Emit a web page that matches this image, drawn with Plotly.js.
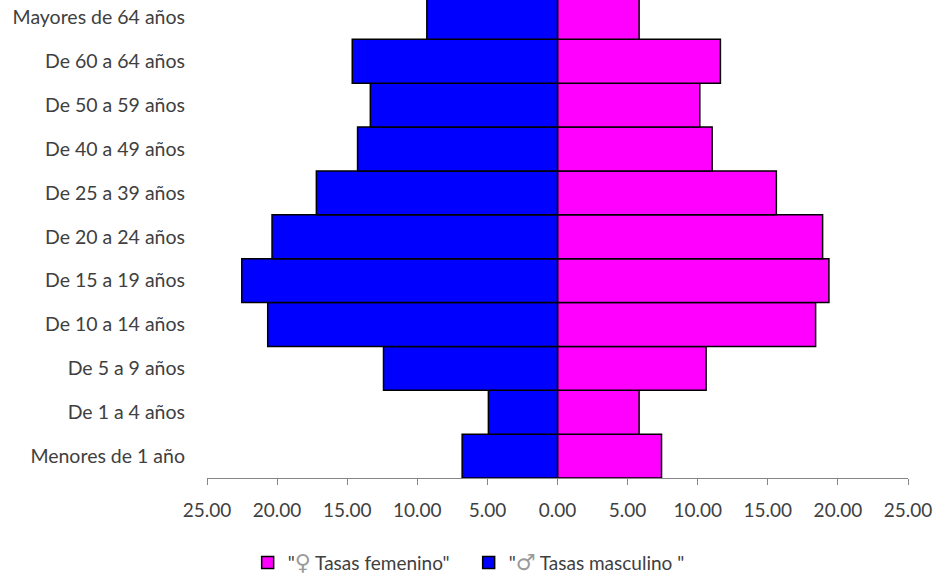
<!DOCTYPE html>
<html>
<head>
<meta charset="utf-8">
<script src="https://cdn.plot.ly/plotly-3.0.1.min.js"></script>
<style>html,body{margin:0;padding:0;background:#fff;}#chart{width:934px;height:576px;}</style>
</head>
<body>
<div id="chart"></div>
<script>
const categories = ["Menores de 1 año","De 1 a 4 años","De 5 a 9 años","De 10 a 14 años","De 15 a 19 años","De 20 a 24 años","De 25 a 39 años","De 40 a 49 años","De 50 a 59 años","De 60 a 64 años","Mayores de 64 años"];
const femaleRates = [7.42, 5.82, 10.60, 18.41, 19.36, 18.91, 15.61, 11.03, 10.15, 11.62, 5.82];
const maleRates = [6.80, 4.93, 12.41, 20.67, 22.52, 20.36, 17.20, 14.26, 13.35, 14.64, 9.32];
const tickValues = [-25, -20, -15, -10, -5, 0, 5, 10, 15, 20, 25];
const tickLabels = ["25.00","20.00","15.00","10.00","5.00","0.00","5.00","10.00","15.00","20.00","25.00"];
const symStyle = 'font-family:DejaVu Sans;font-size:22px;color:#9a9a9a';
const femaleName = '"<span style="' + symStyle + '">\u2640</span> Tasas femenino"';
const maleName = '"<span style="' + symStyle + '">\u2642</span> Tasas masculino "';

const fontFam = "Lato, 'Open Sans', sans-serif";
const textColor = "#404040";

const traces = [
  {
    type: "bar", orientation: "h", name: femaleName,
    y: categories, x: femaleRates,
    marker: {color: "#FF00FF", line: {color: "#000000", width: 1.5}},
    hoverinfo: "y+x"
  },
  {
    type: "bar", orientation: "h", name: maleName,
    y: categories, x: maleRates.map(v => -v),
    marker: {color: "#0000FF", line: {color: "#000000", width: 1.5}},
    hoverinfo: "y+text", text: maleRates.map(v => v.toFixed(2)), textposition: "none"
  }
];

const layout = {
  width: 934, height: 576,
  paper_bgcolor: "#ffffff", plot_bgcolor: "#ffffff",
  margin: {l: 206.5, r: 25.5, t: 0, b: 97.7, pad: 0, autoexpand: false},
  barmode: "relative", bargap: 0,
  font: {family: fontFam, size: 19, color: textColor},
  xaxis: {
    range: [-25, 25], tickvals: tickValues, ticktext: tickLabels,
    showgrid: false, zeroline: false,
    showline: true, linecolor: "#868686", linewidth: 1,
    ticks: "outside", ticklen: 6, tickcolor: "#868686", tickwidth: 1,
    ticklabelstandoff: 9,
    tickfont: {family: fontFam, size: 19, color: textColor},
    fixedrange: true
  },
  yaxis: {
    type: "category", range: [-0.5, 10.395],
    showgrid: false, zeroline: false, showline: false, ticks: "",
    ticklabelstandoff: 21,
    tickfont: {family: fontFam, size: 19.5, color: textColor},
    fixedrange: true
  },
  showlegend: true,
  legend: {
    orientation: "h", x: 0.058, xanchor: "left", y: -0.177, yanchor: "middle",
    traceorder: "normal", entrywidth: 176, entrywidthmode: "pixels",
    font: {family: fontFam, size: 19, color: textColor},
    bgcolor: "rgba(0,0,0,0)"
  }
};

Plotly.newPlot("chart", traces, layout, {staticPlot: true, displayModeBar: false});
</script>
</body>
</html>
